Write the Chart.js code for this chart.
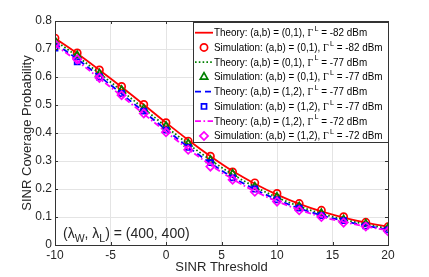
<!DOCTYPE html>
<html><head><meta charset="utf-8">
<script src="https://cdn.jsdelivr.net/npm/chart.js@4/dist/chart.umd.min.js"></script>
<style>html,body{margin:0;padding:0;background:#fff}#wrap{width:429px;height:277px;position:relative}</style>
</head><body><div id="wrap"><canvas id="c" width="429" height="277"></canvas></div>
<script>
// ---- data ----
const thresholds = [-10, -8, -6, -4, -2, 0, 2, 4, 6, 8, 10, 12, 14, 16, 18, 20];
const theory01_82 = [0.738, 0.684, 0.625, 0.564, 0.501, 0.437, 0.375, 0.317, 0.264, 0.219, 0.180, 0.147, 0.120, 0.098, 0.080, 0.065];
const sim01_82    = [0.739, 0.686, 0.625, 0.566, 0.502, 0.437, 0.371, 0.317, 0.261, 0.222, 0.184, 0.148, 0.124, 0.101, 0.081, 0.065];
const theory01_77 = [0.730, 0.674, 0.613, 0.551, 0.487, 0.423, 0.361, 0.304, 0.252, 0.208, 0.170, 0.138, 0.112, 0.091, 0.074, 0.059];
const sim01_77    = [0.728, 0.677, 0.612, 0.553, 0.486, 0.424, 0.362, 0.303, 0.254, 0.207, 0.171, 0.137, 0.113, 0.090, 0.075, 0.060];
const theory12_77 = [0.720, 0.664, 0.603, 0.540, 0.476, 0.412, 0.350, 0.293, 0.242, 0.199, 0.162, 0.131, 0.106, 0.086, 0.069, 0.055];
const sim12_77    = [0.703, 0.654, 0.600, 0.541, 0.478, 0.410, 0.349, 0.294, 0.240, 0.200, 0.161, 0.132, 0.105, 0.087, 0.068, 0.054];
const theory12_72 = [0.714, 0.657, 0.595, 0.532, 0.468, 0.404, 0.343, 0.286, 0.235, 0.192, 0.156, 0.126, 0.101, 0.082, 0.066, 0.052];
const sim12_72    = [0.718, 0.663, 0.597, 0.535, 0.470, 0.403, 0.340, 0.280, 0.233, 0.190, 0.155, 0.124, 0.100, 0.080, 0.066, 0.049];

const legendPrefix = [
  'Theory: (a,b) = (0,1), ', 'Simulation: (a,b) = (0,1), ',
  'Theory: (a,b) = (0,1), ', 'Simulation: (a,b) = (0,1), ',
  'Theory: (a,b) = (1,2), ', 'Simulation: (a,b) = (1,2), ',
  'Theory: (a,b) = (1,2), ', 'Simulation: (a,b) = (1,2), '
];
const legendSuffix = [' = -82 dBm', ' = -82 dBm', ' = -77 dBm', ' = -77 dBm', ' = -77 dBm', ' = -77 dBm', ' = -72 dBm', ' = -72 dBm'];
const xTitle = 'SINR Threshold';
const yTitle = 'SINR Coverage Probability';

const FONT = "'Liberation Sans', Arial, Helvetica, sans-serif";
const SERIF = "'Liberation Serif', 'Times New Roman', serif";
const AX = '#262626';

const pts = arr => thresholds.map((x, i) => ({x, y: arr[i]}));
function lineDs(arr, color, dash, idx) {
  return {label: legendPrefix[idx], data: pts(arr), borderColor: color, backgroundColor: color,
    borderWidth: 1.8, borderDash: dash, pointRadius: 0, fill: false,
    cubicInterpolationMode: 'monotone', order: 8 - idx, _kind: 'line'};
}
function simDs(arr, color, style, r, idx) {
  return {label: legendPrefix[idx], data: pts(arr), borderColor: color, backgroundColor: 'rgba(0,0,0,0)',
    showLine: false, pointStyle: style, pointRadius: r, pointBorderWidth: 1.7,
    pointHoverRadius: r, order: 8 - idx, _kind: 'marker'};
}
const datasets = [
  lineDs(theory01_82, '#ff0000', [], 0),
  simDs(sim01_82, '#ff0000', 'circle', 3.6, 1),
  lineDs(theory01_77, '#008000', [1.6, 2.2], 2),
  simDs(sim01_77, '#008000', 'triangle', 4.3, 3),
  lineDs(theory12_77, '#0000ff', [6, 4], 4),
  simDs(sim12_77, '#0000ff', 'rect', 3.6, 5),
  lineDs(theory12_72, '#ff00ff', [6, 2.5, 1.6, 2.5], 6),
  simDs(sim12_72, '#ff00ff', 'rectRot', 4.1, 7)
];

const decor = {
  id: 'decor',
  afterDraw(chart) {
    const ctx = chart.ctx, a = chart.chartArea;
    const xs = chart.scales.x, ys = chart.scales.y;
    ctx.save();
    // box
    ctx.strokeStyle = '#333';
    ctx.lineWidth = 1;
    ctx.strokeRect(Math.round(a.left) + 0.5, Math.round(a.top) + 0.5, Math.round(a.right - a.left), Math.round(a.bottom - a.top));
    // inward ticks
    ctx.beginPath();
    xs.ticks.forEach(t => {
      const px = Math.round(xs.getPixelForValue(t.value)) + 0.5;
      ctx.moveTo(px, a.bottom); ctx.lineTo(px, a.bottom - 3);
      ctx.moveTo(px, a.top); ctx.lineTo(px, a.top + 3);
    });
    ys.ticks.forEach(t => {
      const py = Math.round(ys.getPixelForValue(t.value)) + 0.5;
      ctx.moveTo(a.left, py); ctx.lineTo(a.left + 3, py);
      ctx.moveTo(a.right, py); ctx.lineTo(a.right - 3, py);
    });
    ctx.stroke();

    // annotation (lambda_W, lambda_L) = (400, 400)
    let x = 63; const by = 238;
    ctx.fillStyle = AX;
    ctx.textBaseline = 'alphabetic'; ctx.textAlign = 'left';
    const big = '14px ' + FONT, small = '10.5px ' + FONT;
    const parts = [['(λ', big, 0], ['W', small, 4], [', λ', big, 0], ['L', small, 4], [') = (400, 400)', big, 0]];
    parts.forEach(([s, f, dy]) => { ctx.font = f; ctx.fillText(s, x, by + dy); x += ctx.measureText(s).width; });

    // legend
    const L = 193, R = Math.round(a.right), T = 22, B = 142;
    ctx.fillStyle = '#fff';
    ctx.fillRect(L, T, R - L, B - T);
    ctx.strokeStyle = '#333'; ctx.lineWidth = 1;
    ctx.strokeRect(L + 0.5, T + 0.5, R - L, B - T);
    // measure widest row to fit the reference width
    const rowWidth = i => {
      let w = 0;
      ctx.font = '11px ' + FONT; w += ctx.measureText(legendPrefix[i]).width + ctx.measureText(legendSuffix[i]).width;
      ctx.font = '11px ' + SERIF; w += ctx.measureText('Γ').width + 1.5;
      ctx.font = '8px ' + FONT; w += ctx.measureText('L').width;
      return w;
    };
    let maxW = 0; for (let i = 0; i < 8; i++) maxW = Math.max(maxW, rowWidth(i));
    const sx = Math.min(1, 168.5 / maxW);
    chart.data.datasets.forEach((ds, i) => {
      const ry = 32.7 + i * 14.75;
      if (ds._kind === 'line') {
        ctx.save();
        ctx.strokeStyle = ds.borderColor; ctx.lineWidth = ds.borderWidth;
        ctx.setLineDash(ds.borderDash || []);
        ctx.beginPath(); ctx.moveTo(195, ry); ctx.lineTo(213, ry); ctx.stroke();
        ctx.restore();
      } else {
        ctx.save();
        ctx.strokeStyle = ds.borderColor; ctx.fillStyle = 'rgba(0,0,0,0)'; ctx.lineWidth = ds.pointBorderWidth;
        Chart.helpers.drawPoint(ctx, {pointStyle: ds.pointStyle, radius: ds.pointRadius, borderWidth: ds.pointBorderWidth, rotation: 0}, 204, ry);
        ctx.restore();
      }
      ctx.save();
      ctx.translate(214, 0); ctx.scale(sx, 1);
      let tx = 0;
      ctx.fillStyle = '#000'; ctx.textBaseline = 'middle';
      ctx.font = '11px ' + FONT; ctx.fillText(legendPrefix[i], tx, ry + 0.5); tx += ctx.measureText(legendPrefix[i]).width;
      ctx.font = '11px ' + SERIF; ctx.fillText('Γ', tx, ry + 0.5); tx += ctx.measureText('Γ').width + 1.5;
      ctx.font = '8px ' + FONT; ctx.fillText('L', tx, ry - 4); tx += ctx.measureText('L').width;
      ctx.font = '11px ' + FONT; ctx.fillText(legendSuffix[i], tx, ry + 0.5);
      ctx.restore();
    });
    ctx.restore();
  }
};

const fmt = v => String(Math.round(v * 10) / 10);
new Chart(document.getElementById('c'), {
  type: 'line',
  data: {datasets},
  options: {
    responsive: false, animation: false, devicePixelRatio: 1,
    layout: {padding: {top: 21, right: 41, left: 0, bottom: 0}},
    plugins: {legend: {display: false}, tooltip: {enabled: false}},
    scales: {
      x: {type: 'linear', min: -10, max: 20,
        ticks: {stepSize: 5, font: {family: FONT, size: 12}, color: AX, padding: 3, maxRotation: 0},
        grid: {color: '#e4e4e4', drawTicks: false}, border: {display: false},
        title: {display: true, text: xTitle, font: {family: FONT, size: 13}, color: AX, padding: {top: 0, bottom: 2}},
        afterFit(s) { s.height = 32; }},
      y: {min: 0, max: 0.8,
        ticks: {stepSize: 0.1, font: {family: FONT, size: 12}, color: AX, padding: 3, callback: v => fmt(v)},
        grid: {color: '#e4e4e4', drawTicks: false}, border: {display: false},
        title: {display: true, text: yTitle, font: {family: FONT, size: 13}, color: AX, padding: {top: 20, bottom: 0}},
        afterFit(s) { s.width = 55; }}
    }
  },
  plugins: [decor]
});
</script></body></html>
